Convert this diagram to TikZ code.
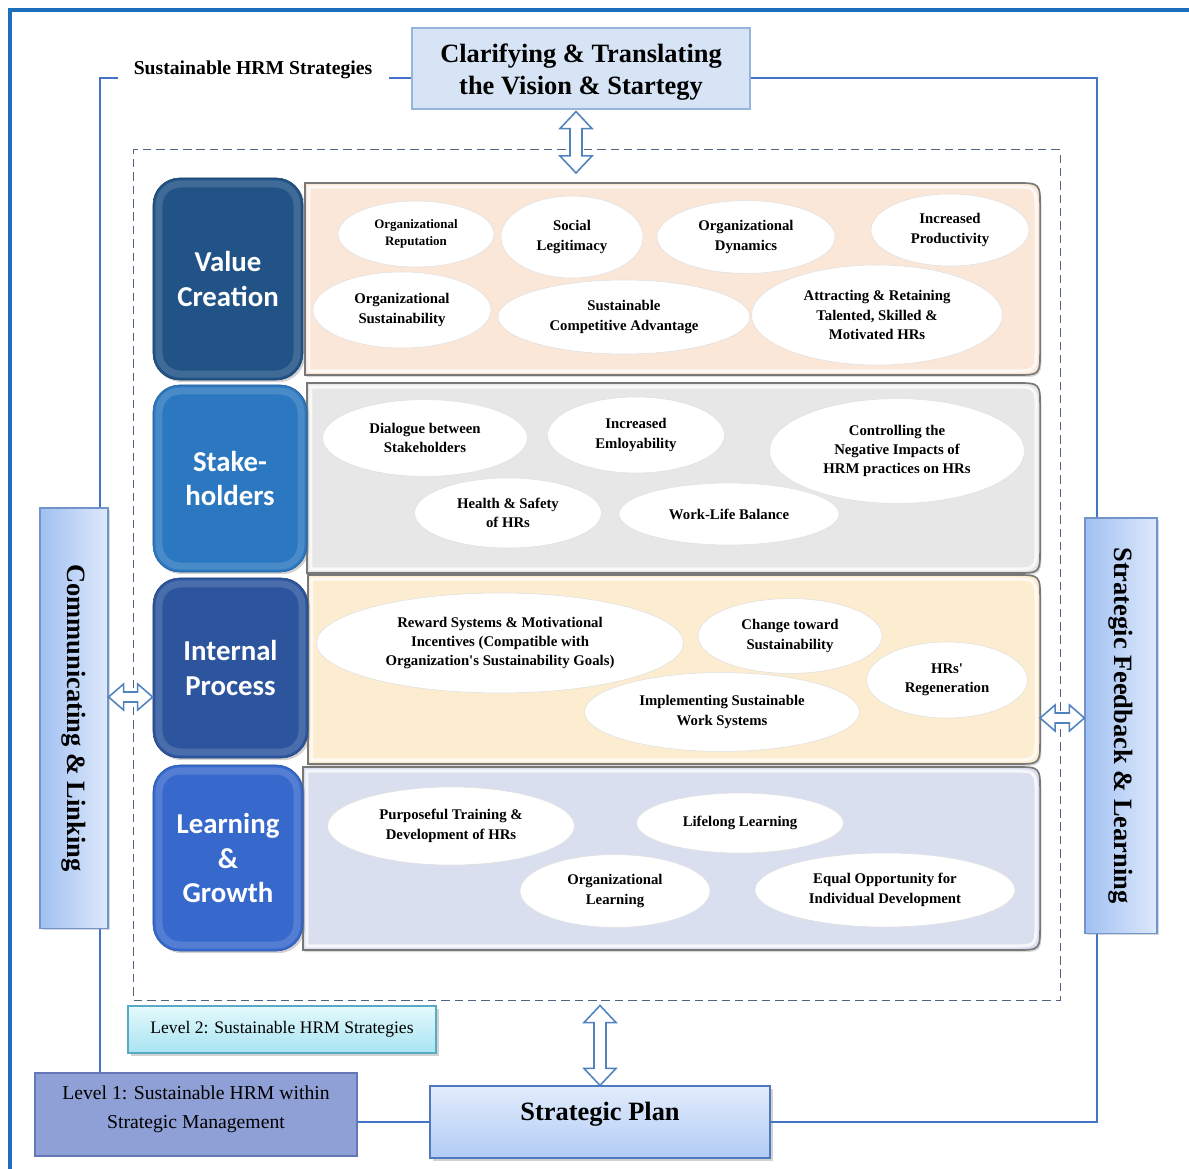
\documentclass[tikz,border=0pt]{standalone}
\usepackage{fontspec}
\setmainfont{Liberation Serif}
\newfontfamily\lblfont{Carlito}
\usetikzlibrary{shapes.geometric,calc,shadows}

\definecolor{outerb}{RGB}{30,110,190}
\definecolor{loopc}{RGB}{68,114,196}
\definecolor{dashc}{RGB}{80,100,130}
\definecolor{clarf}{RGB}{214,228,245}
\definecolor{clard}{RGB}{150,180,220}
\definecolor{vcc}{RGB}{33,83,135}
\definecolor{shc}{RGB}{44,120,192}
\definecolor{ipc}{RGB}{45,85,158}
\definecolor{lgc}{RGB}{55,105,205}
\definecolor{rowA}{RGB}{251,231,216}
\definecolor{rowB}{RGB}{231,231,231}
\definecolor{rowC}{RGB}{252,236,208}
\definecolor{rowD}{RGB}{218,223,239}
\definecolor{bevel}{RGB}{120,120,120}
\definecolor{arrc}{RGB}{80,130,190}
\definecolor{sideL}{RGB}{160,192,242}
\definecolor{sideR}{RGB}{222,233,251}
\definecolor{planT}{RGB}{226,236,252}
\definecolor{planB}{RGB}{178,204,245}
\definecolor{planD}{RGB}{80,120,190}
\definecolor{lvTwoT}{RGB}{228,249,252}
\definecolor{lvTwoB}{RGB}{168,228,242}
\definecolor{lvTwoD}{RGB}{90,170,195}
\definecolor{lvOneF}{RGB}{143,160,214}
\definecolor{lvOneD}{RGB}{100,120,185}

\newcommand{\cbox}[3]{%
 \path[#3] ($(#1.north west)+(#2,#2)$) -- ($(#1.north east)+(-25-#2,#2)$)
  .. controls ($(#1.north east)+(-#2,#2)$) .. ($(#1.north east)+(-#2,25+#2)$)
  -- ($(#1.south east)+(-#2,-25-#2)$)
  .. controls ($(#1.south east)+(-#2,-#2)$) .. ($(#1.south east)+(-25-#2,-#2)$)
  -- ($(#1.south west)+(#2,-#2)$) -- cycle;}
\newcommand{\vdarr}[2]{\draw[darr] (#1) -- ++(16,17) -- ++(-10,0) -- ($(#2)+(6,-17)$) -- ++(10,0) -- (#2) -- ++(-16,-17) -- ++(10,0) -- ($(#1)+(-6,17)$) -- ++(-10,0) -- cycle;}
\newcommand{\hdarr}[2]{\draw[darr] (#1) -- ++(15,-13) -- ++(0,8) -- ($(#2)+(-15,-5)$) -- ++(0,-8) -- (#2) -- ++(-15,13) -- ++(0,-8) -- ($(#1)+(15,5)$) -- ++(0,8) -- cycle;}

\begin{document}
\begin{tikzpicture}[x=0.025cm,y=-0.025cm,
  ell/.style={ellipse, fill=white, draw=black!12, line width=0.4pt, inner sep=0pt, align=center,
    font=\bfseries\fontsize{10.5}{13.8}\selectfont},
  ellsmall/.style={ell, font=\bfseries\fontsize{9.2}{12}\selectfont},
  cnode/.style={inner sep=0pt, outer sep=0pt},
  lbl/.style={rounded corners=19pt, inner sep=0pt, align=center, text=white,
    font=\lblfont\bfseries\fontsize{20.5}{24.5}\selectfont,
    drop shadow={shadow xshift=1.5pt, shadow yshift=-1.5pt, opacity=0.35},
    path picture={\draw[white, opacity=0.14, line width=5pt, rounded corners=15pt]
      ($(path picture bounding box.north west)+(6,6)$) rectangle ($(path picture bounding box.south east)+(-6,-6)$);}},
  loopline/.style={draw=loopc, line width=1.4pt},
  darr/.style={draw=arrc, fill=white, line width=1.1pt, line join=miter},
  bigbold/.style={font=\bfseries\fontsize{18.8}{22.7}\selectfont, align=center},
  plainbox/.style={inner sep=0pt},
  sidebox/.style={draw=planD!80, line width=0.8pt, left color=sideL, right color=sideR, inner sep=0pt,
    drop shadow={shadow xshift=1.5pt, shadow yshift=-1.5pt, opacity=0.3}}
]
\useasboundingbox (0,0) rectangle (1189,1169);
\clip (0,0) rectangle (1189,1169);
\fill[white] (0,0) rectangle (1189,1169);

% outer border
\draw[outerb, line width=2.2pt] (10,1180) -- (10,10) -- (1200,10);

% dashed frame
\node[draw=dashc, dash pattern=on 6pt off 3.5pt, line width=0.6pt, inner sep=0pt,
  minimum width=23.15cm, minimum height=21.25cm] (frame) at (597,575) {};

% content boxes
\node[cnode, minimum width=18.375cm, minimum height=4.8cm] (c1) at (672.5,279) {};
\node[cnode, minimum width=18.325cm, minimum height=4.75cm] (c2) at (673.5,478) {};
\node[cnode, minimum width=18.3cm, minimum height=4.725cm] (c3) at (674,669.5) {};
\node[cnode, minimum width=18.425cm, minimum height=4.575cm] (c4) at (671.5,858.5) {};
\foreach \c/\f in {c1/rowA, c2/rowB, c3/rowC, c4/rowD}{
  \cbox{\c}{0}{fill=\f, draw=bevel, line width=1.2pt, drop shadow={shadow xshift=1pt, shadow yshift=-1.5pt, opacity=0.3}}
  \cbox{\c}{4}{draw=white, line width=2.2pt, opacity=0.75}
}

% label boxes
\node[lbl, fill=vcc, draw=vcc!80!black, minimum width=3.75cm, minimum height=5.05cm] (vc) at (228,279) {Value\\Creation};
\node[lbl, fill=shc, draw=shc!80!black, minimum width=3.85cm, minimum height=4.675cm] (sh) at (230,478.5) {Stake-\\holders};
\node[lbl, fill=ipc, draw=ipc!80!black, minimum width=3.875cm, minimum height=4.5cm] (ip) at (230.5,668) {Internal\\Process};
\node[lbl, fill=lgc, draw=lgc!80!black, minimum width=3.75cm, minimum height=4.65cm] (lg) at (228,858) {Learning\\\&\\Growth};

% row 1 ellipses
\node[ellsmall, minimum width=3.9cm, minimum height=1.65cm] (rep) at (416,234) {Organizational\\Reputation};
\node[ell, minimum width=3.55cm, minimum height=2.05cm] (soc) at (572,237) {Social\\Legitimacy};
\node[ell, minimum width=4.45cm, minimum height=1.82cm] (dyn) at (746,237) {Organizational\\Dynamics};
\node[ell, minimum width=3.95cm, minimum height=1.8cm] (prod) at (950,230) {Increased\\Productivity};
\node[ell, minimum width=4.45cm, minimum height=1.9cm] (osus) at (402,310) {Organizational\\Sustainability};
\node[ell, minimum width=6.3cm, minimum height=1.85cm] (sca) at (624,317) {Sustainable\\Competitive Advantage};
\node[ell, minimum width=6.27cm, minimum height=2.5cm] (att) at (877,315) {Attracting \& Retaining\\Talented, Skilled \&\\Motivated HRs};

% row 2 ellipses
\node[ell, minimum width=5.12cm, minimum height=1.92cm] (dia) at (425,438) {Dialogue between\\Stakeholders};
\node[ell, minimum width=4.42cm, minimum height=1.9cm] (emp) at (636,435) {Increased\\Emloyability};
\node[ell, minimum width=6.37cm, minimum height=2.62cm] (ctl) at (897,451) {Controlling the\\Negative Impacts of\\HRM practices on HRs};
\node[ell, minimum width=4.67cm, minimum height=1.75cm] (hs) at (508,513) {Health \& Safety\\of HRs};
\node[ell, minimum width=5.5cm, minimum height=1.55cm] (wlb) at (729,514) {Work-Life Balance};

% row 3 ellipses
\node[ell, minimum width=9.17cm, minimum height=2.5cm] (rew) at (500,643) {Reward Systems \& Motivational\\Incentives (Compatible with\\Organization\textquotesingle s Sustainability Goals)};
\node[ell, minimum width=4.6cm, minimum height=1.87cm] (chg) at (790,636) {Change toward\\Sustainability};
\node[ell, minimum width=4.02cm, minimum height=1.9cm] (hrs) at (947,680) {HRs\textquotesingle\\Regeneration};
\node[ell, minimum width=6.87cm, minimum height=1.97cm] (imp) at (722,712) {Implementing Sustainable\\Work Systems};

% row 4 ellipses
\node[ell, minimum width=6.17cm, minimum height=1.95cm] (pur) at (451,826) {Purposeful Training \&\\Development of HRs};
\node[ell, minimum width=5.17cm, minimum height=1.5cm] (lif) at (740,823) {Lifelong Learning};
\node[ell, minimum width=4.75cm, minimum height=1.82cm] (orl) at (615,891) {Organizational\\Learning};
\node[ell, minimum width=6.5cm, minimum height=1.85cm] (eqo) at (885,890) {Equal Opportunity for\\Individual Development};

% boxes of the outer loop
\node[draw=clard, fill=clarf, line width=0.8pt, minimum width=8.45cm, minimum height=2.025cm] (clar) at (581,68.5) {};
\node[bigbold, plainbox] (clartext) at ($(clar.center)+(0,3.5)$) {Clarifying \& Translating\\the Vision \& Startegy};
\node[inner xsep=0.4cm, inner ysep=2pt, font=\bfseries\fontsize{14}{16}\selectfont] (shrm) at (253,70) {Sustainable HRM Strategies};
\node[draw=planD, line width=0.8pt, top color=planT, bottom color=planB, minimum width=8.5cm, minimum height=1.8cm,
  drop shadow={shadow xshift=2pt, shadow yshift=-2pt, opacity=0.35}] (plan) at (600,1122) {};
\node[bigbold, plainbox] (plantext) at ($(plan.center)+(0,-8)$) {Strategic Plan};
\node[draw=lvOneD, line width=0.8pt, fill=lvOneF, minimum width=8.05cm, minimum height=2.075cm] (lvlone) at (196,1114.5) {};
\node[plainbox, align=center, font=\fontsize{14}{20.6}\selectfont] (lvlonetext) at ($(lvlone.center)+(0,-5)$) {Level 1: Sustainable HRM within\\Strategic Management};
\node[draw=lvTwoD, line width=0.8pt, top color=lvTwoT, bottom color=lvTwoB, font=\fontsize{12.5}{15}\selectfont,
  minimum width=7.7cm, minimum height=1.175cm,
  drop shadow={shadow xshift=2pt, shadow yshift=-2pt, opacity=0.35}] (lvltwo) at (282,1029.5) {Level 2: Sustainable HRM Strategies};

% loop lines
\coordinate (lc) at (100,78);
\coordinate (rc) at (1097,78);
\draw[loopline] (lvlone.north -| lc) -- (lc) -- (shrm.west |- lc);
\draw[loopline] (shrm.east |- lc) -- (clar.west |- lc);
\draw[loopline] (clar.east |- rc) -- (rc) -- (plan.east -| rc) -- (plan.east);
\draw[loopline] (plan.west) -- (plan.west -| lvlone.east);

% side boxes
\node[sidebox, minimum width=1.7cm, minimum height=10.5cm] (lft) at (74,718)
  {\rotatebox{-90}{\bfseries\fontsize{18.8}{22}\selectfont Communicating \& Linking}};
\node[sidebox, minimum width=1.8cm, minimum height=10.375cm] (rgt) at (1121,725.5)
  {\rotatebox{-90}{\bfseries\fontsize{18.8}{22}\selectfont Strategic Feedback \& Learning}};

% double arrows
\vdarr{$(clar.south -| 576,0)+(0,2)$}{$(c1.north -| 576,0)+(0,-10)$}
\vdarr{$(frame.south -| plan.north)+(0,5)$}{plan.north}
\hdarr{lft.east |- 0,697}{ip.west |- 0,697}
\hdarr{c3.east |- 0,718}{rgt.west |- 0,718}
\end{tikzpicture}
\end{document}
